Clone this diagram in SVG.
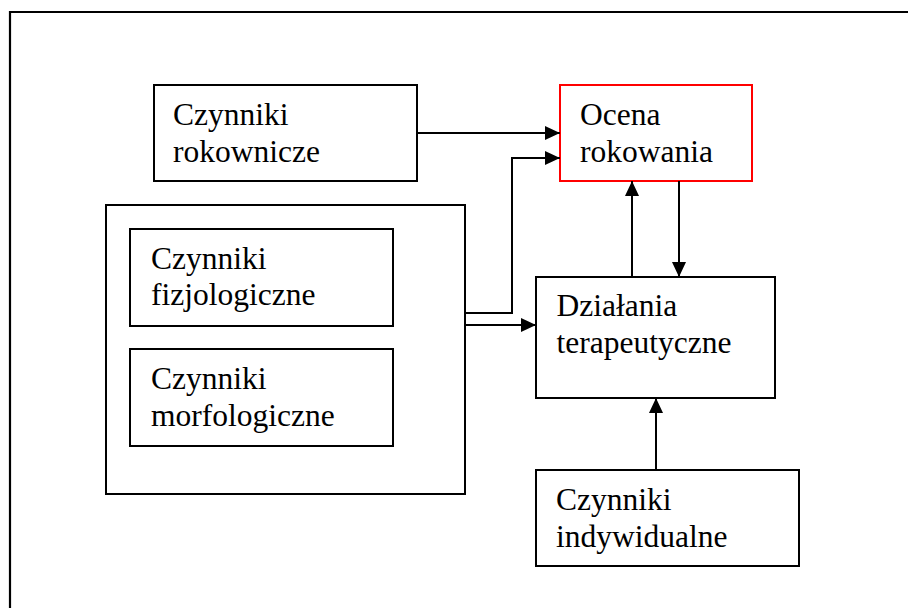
<svg xmlns="http://www.w3.org/2000/svg" width="908" height="608" viewBox="0 0 908 608">
  <style>
    .box { fill: #ffffff; stroke: #000000; stroke-width: 2; }
    .red { stroke: #ff0000; }
    .lbl { font-family: "Liberation Serif", "DejaVu Serif", serif; font-size: 31.5px; fill: #000000; }
    .edge { fill: none; stroke: #000000; stroke-width: 2; }
  </style>
  <defs>
    <marker id="arrow" markerUnits="userSpaceOnUse" markerWidth="16" markerHeight="15" refX="15" refY="7" orient="auto">
      <path d="M0,0 L15,7 L0,14 Z" fill="#000000"/>
    </marker>
  </defs>

  <rect width="908" height="608" fill="#ffffff"/>
  <!-- page frame -->
  <path d="M10,608 V12 H908" fill="none" stroke="#000000" stroke-width="2.2"/>

  <g id="czynniki-rokownicze">
    <rect class="box" x="154" y="85" width="263" height="96"/>
    <text class="lbl" font-family="Liberation Serif, serif" x="173" y="124.5">Czynniki</text>
    <text class="lbl" font-family="Liberation Serif, serif" x="173" y="161.5">rokownicze</text>
  </g>

  <g id="ocena-rokowania">
    <rect class="box red" x="560" y="85" width="192" height="96"/>
    <text class="lbl" font-family="Liberation Serif, serif" x="580" y="124.5">Ocena</text>
    <text class="lbl" font-family="Liberation Serif, serif" x="580" y="161.5">rokowania</text>
  </g>

  <g id="czynniki-grupa">
    <rect class="box" x="106" y="205" width="359" height="289"/>
    <g id="czynniki-fizjologiczne">
      <rect class="box" x="130" y="229" width="263" height="97"/>
      <text class="lbl" font-family="Liberation Serif, serif" x="151" y="268.5">Czynniki</text>
      <text class="lbl" font-family="Liberation Serif, serif" x="151" y="305">fizjologiczne</text>
    </g>
    <g id="czynniki-morfologiczne">
      <rect class="box" x="130" y="349" width="263" height="97"/>
      <text class="lbl" font-family="Liberation Serif, serif" x="151" y="389">Czynniki</text>
      <text class="lbl" font-family="Liberation Serif, serif" x="151" y="425.5">morfologiczne</text>
    </g>
  </g>

  <g id="dzialania-terapeutyczne">
    <rect class="box" x="536" y="277" width="239" height="121"/>
    <text class="lbl" font-family="Liberation Serif, serif" x="556.5" y="316">Działania</text>
    <text class="lbl" font-family="Liberation Serif, serif" x="556.5" y="352.5">terapeutyczne</text>
  </g>

  <g id="czynniki-indywidualne">
    <rect class="box" x="536" y="470" width="263" height="96"/>
    <text class="lbl" font-family="Liberation Serif, serif" x="556" y="510">Czynniki</text>
    <text class="lbl" font-family="Liberation Serif, serif" x="556" y="546.5">indywidualne</text>
  </g>

  <g id="connectors">
    <path class="edge" d="M417,133 H560" marker-end="url(#arrow)"/>
    <path class="edge" d="M465,313 H512 V158 H560" marker-end="url(#arrow)"/>
    <path class="edge" d="M465,325 H536" marker-end="url(#arrow)"/>
    <path class="edge" d="M632,277 V181" marker-end="url(#arrow)"/>
    <path class="edge" d="M679,181 V277" marker-end="url(#arrow)"/>
    <path class="edge" d="M656,470 V398" marker-end="url(#arrow)"/>
  </g>
</svg>
